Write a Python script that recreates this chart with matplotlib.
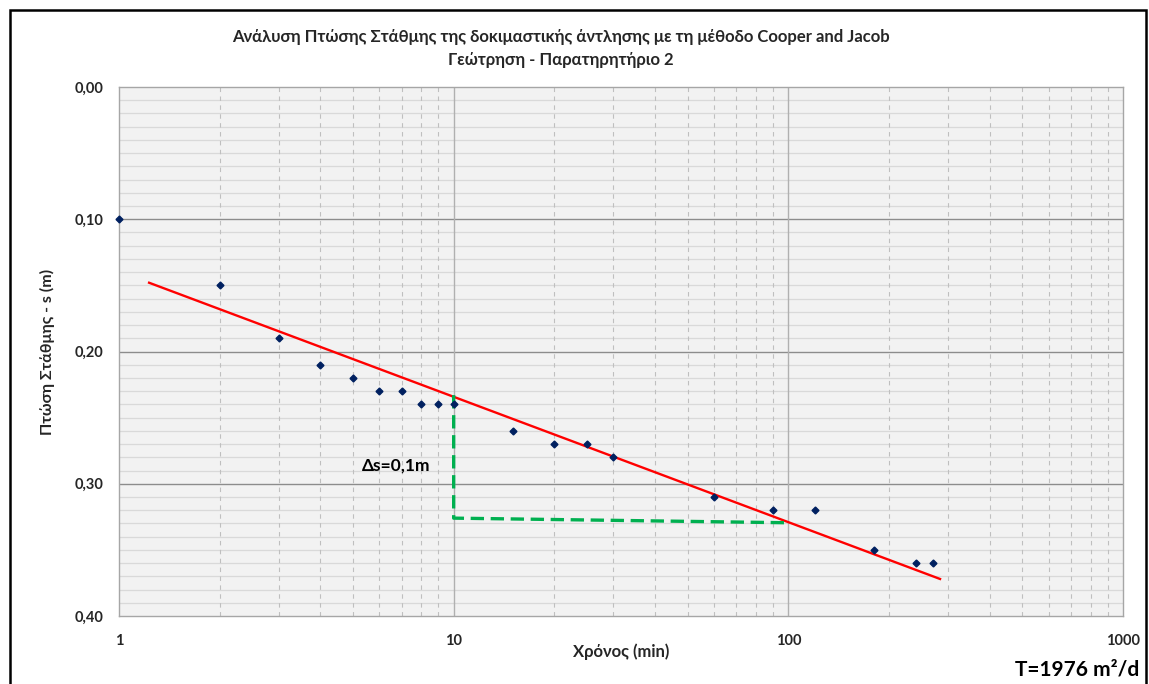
import matplotlib
matplotlib.use("Agg")
import matplotlib.pyplot as plt
from matplotlib.patches import Rectangle
from matplotlib.ticker import FixedLocator, NullFormatter

plt.rcParams['font.family'] = ['Lato', 'DejaVu Sans']

# pumping test data (observation well 2)
time_min = [1, 2, 3, 4, 5, 6, 7, 8, 9, 10, 15, 20, 25, 30, 60, 90, 120, 180, 240, 270]
drawdown = [0.10, 0.15, 0.19, 0.21, 0.22, 0.23, 0.23, 0.24, 0.24, 0.24,
            0.26, 0.27, 0.27, 0.28, 0.31, 0.32, 0.32, 0.35, 0.36, 0.36]

# Cooper-Jacob straight line
fit_t = [1.23, 284]
fit_s = [0.148, 0.372]

# one log cycle construction
cycle_t = [10, 10, 100]
cycle_s = [0.233, 0.326, 0.3295]

x_ticks = [1, 10, 100, 1000]
x_ticklabels = ['1', '10', '100', '1000']
y_ticks = [0.0, 0.1, 0.2, 0.3, 0.4]
y_ticklabels = ['0,00', '0,10', '0,20', '0,30', '0,40']

fig = plt.figure(figsize=(11.49, 6.84), dpi=100)
ax = fig.add_axes([119/1149, 1-616/684, (1123-119)/1149, (616-87)/684])
ax.set_facecolor('#F2F2F2')

ax.set_xscale('log')
ax.set_xlim(1, 1000)
ax.set_ylim(0.4, 0.0)

minor_x = [m * d for d in (1, 10, 100) for m in range(2, 10)]
minor_y = [i / 100 for i in range(41) if i % 10 != 0]
for y in minor_y:
    ax.axhline(y, color='#D9D9D9', lw=0.9, zorder=0)
for y in y_ticks[1:-1]:
    ax.axhline(y, color='#8C8C8C', lw=1.0, zorder=1)
for x in minor_x:
    ax.axvline(x, color='#BFBFBF', lw=0.8, ls=(0, (4, 4)), zorder=1)
for x in x_ticks[1:-1]:
    ax.axvline(x, color='#B0B0B0', lw=1.0, zorder=1)

ax.plot(fit_t, fit_s, color='#FF0000', lw=1.7, zorder=3)
ax.plot(cycle_t, cycle_s, color='#00B050', lw=2.4, ls=(0, (4, 2)), zorder=3)
ax.plot(time_min, drawdown, ls='none', marker='D', ms=3.5, color='#002060', zorder=4,
        clip_on=False)

ax.xaxis.set_major_locator(FixedLocator(x_ticks))
ax.xaxis.set_minor_locator(FixedLocator(minor_x))
ax.xaxis.set_minor_formatter(NullFormatter())
ax.set_xticklabels(x_ticklabels, fontsize=10.5, fontweight='bold')
ax.set_yticks(y_ticks)
ax.set_yticklabels(y_ticklabels, fontsize=10.5, fontweight='bold')
ax.tick_params(which='both', length=0)
ax.tick_params(axis='x', pad=13, colors='#262626')
ax.tick_params(axis='y', pad=11, colors='#262626')

for sp in ax.spines.values():
    sp.set_color('#A6A6A6')
    sp.set_linewidth(1.0)

ax.set_xlabel('Χρόνος (min)', fontsize=12, fontweight='bold', labelpad=-3, color='#262626')
ax.set_ylabel('Πτώση Στάθμης - s (m)', fontsize=11.5, fontweight='bold', labelpad=14,
              color='#262626')

fig.text(561/1149, 1-37/684, 'Ανάλυση Πτώσης Στάθμης της δοκιμαστικής άντλησης με τη μέθοδο Cooper and Jacob',
         ha='center', va='center', fontsize=12, fontweight='bold', color='#262626')
fig.text(561/1149, 1-60/684, 'Γεώτρηση - Παρατηρητήριο 2',
         ha='center', va='center', fontsize=12, fontweight='bold', color='#262626')

ax.text(5.3, 0.286, 'Δs=0,1m', ha='left', va='center', fontsize=12.5, fontweight='bold',
        color='black')
fig.text(1139/1149, 1-670/684, 'T=1976 m²/d', ha='right', va='center',
         fontsize=15, fontweight='bold', color='black')

fig.add_artist(Rectangle((10/1149, -0.05), (1146-10)/1149, 1.05-10/684,
                         transform=fig.transFigure, fill=False, ec='black', lw=1.8))

fig.savefig('out.png', dpi=100)
